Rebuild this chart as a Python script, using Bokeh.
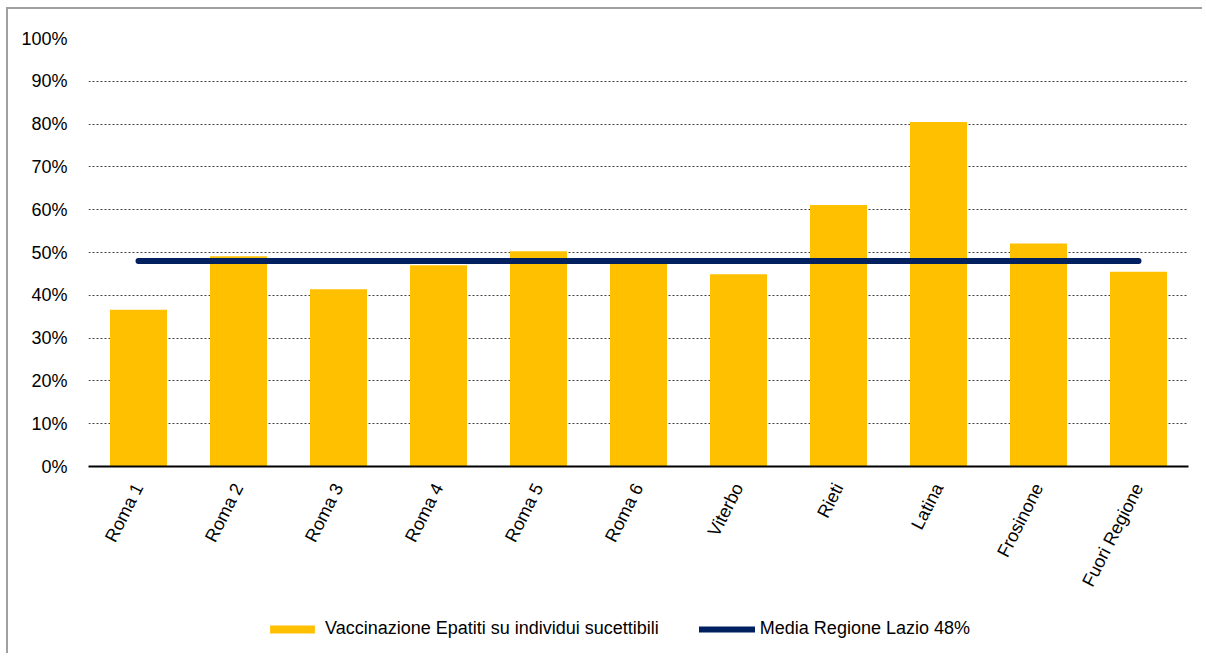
from bokeh.plotting import figure
from bokeh.layouts import column
from bokeh.models import Range1d, PrintfTickFormatter, FixedTicker, Legend, LegendItem, ColumnDataSource
from bokeh.embed import file_html
from bokeh.resources import INLINE

categories = ["Roma 1", "Roma 2", "Roma 3", "Roma 4", "Roma 5", "Roma 6",
              "Viterbo", "Rieti", "Latina", "Frosinone", "Fuori Regione"]
vaccinazione = [36.6, 49.1, 41.4, 47.0, 50.3, 48.0, 44.9, 61.1, 80.5, 52.1, 45.5]
media_lazio = 48.0
y_ticks = [0, 10, 20, 30, 40, 50, 60, 70, 80, 90, 100]

FONT = "Liberation Sans"
FS = "18px"
BAR_COLOR = "#FFC000"
LINE_COLOR = "#002060"
BORDER = "2px solid #a0a0a0"

p = figure(x_range=categories, width=1196, height=591, output_backend="svg",
           toolbar_location=None, min_border_left=80, min_border_top=29,
           min_border_right=16, min_border_bottom=134)
p.styles = {"border-top": BORDER, "border-left": BORDER,
            "margin-top": "7px", "margin-left": "6px"}
p.y_range = Range1d(0, 100)
p.outline_line_color = None
p.x_range.range_padding = 0

src = ColumnDataSource(dict(cat=categories, val=vaccinazione,
                            media=[media_lazio] * len(categories)))
p.vbar(x="cat", top="val", width=0.57, source=src,
       fill_color=BAR_COLOR, line_color=None)
p.line(x="cat", y="media", source=src, line_color=LINE_COLOR,
       line_width=6, line_cap="round")

p.yaxis.ticker = FixedTicker(ticks=y_ticks)
p.yaxis.formatter = PrintfTickFormatter(format="%d%%")
p.yaxis.axis_line_color = None
p.yaxis.major_tick_line_color = None
p.yaxis.minor_tick_line_color = None
p.yaxis.major_label_standoff = 15
p.yaxis.major_label_text_font = FONT
p.yaxis.major_label_text_font_size = FS
p.yaxis.major_label_text_color = "#000000"

p.xaxis.axis_line_color = "#000000"
p.xaxis.axis_line_width = 2
p.xaxis.major_tick_line_color = None
p.xaxis.minor_tick_line_color = None
p.xaxis.major_label_orientation = 1.1
p.xaxis.major_label_standoff = 12
p.xaxis.major_label_text_font = FONT
p.xaxis.major_label_text_font_size = FS
p.xaxis.major_label_text_color = "#000000"

p.xgrid.grid_line_color = None
p.ygrid.grid_line_color = "#404040"
p.ygrid.grid_line_dash = "2 2"
p.ygrid.grid_line_width = 1

# legend strip below the chart (glyphs lie outside its visible range)
p2 = figure(width=1196, height=55, output_backend="svg", toolbar_location=None,
            x_axis_type=None, y_axis_type=None, min_border=0,
            x_range=p.x_range, y_range=Range1d(1000, 1001))
p2.styles = {"border-left": BORDER, "margin-left": "6px"}
p2.outline_line_color = None
p2.grid.grid_line_color = None
leg_bar = p2.vbar(x="cat", top="val", width=0.57, source=src,
                  fill_color=BAR_COLOR, line_color=None)
leg_line = p2.line(x="cat", y="media", source=src, line_color=LINE_COLOR,
                   line_width=6, line_cap="round")

legend = Legend(items=[
    LegendItem(label="Vaccinazione Epatiti su individui sucettibili", renderers=[leg_bar]),
    LegendItem(label="Media Regione Lazio 48%", renderers=[leg_line]),
], orientation="horizontal", location=(176, 14))
legend.glyph_width = 56
legend.glyph_height = 10
legend.label_standoff = 5
legend.spacing = 40
legend.padding = 0
legend.margin = 0
legend.border_line_color = None
legend.background_fill_alpha = 0
legend.label_text_font = FONT
legend.label_text_font_size = FS
legend.label_text_color = "#000000"
p2.add_layout(legend, "center")

layout = column(p, p2, spacing=0)
open("out.html", "w").write(file_html(layout, INLINE))
